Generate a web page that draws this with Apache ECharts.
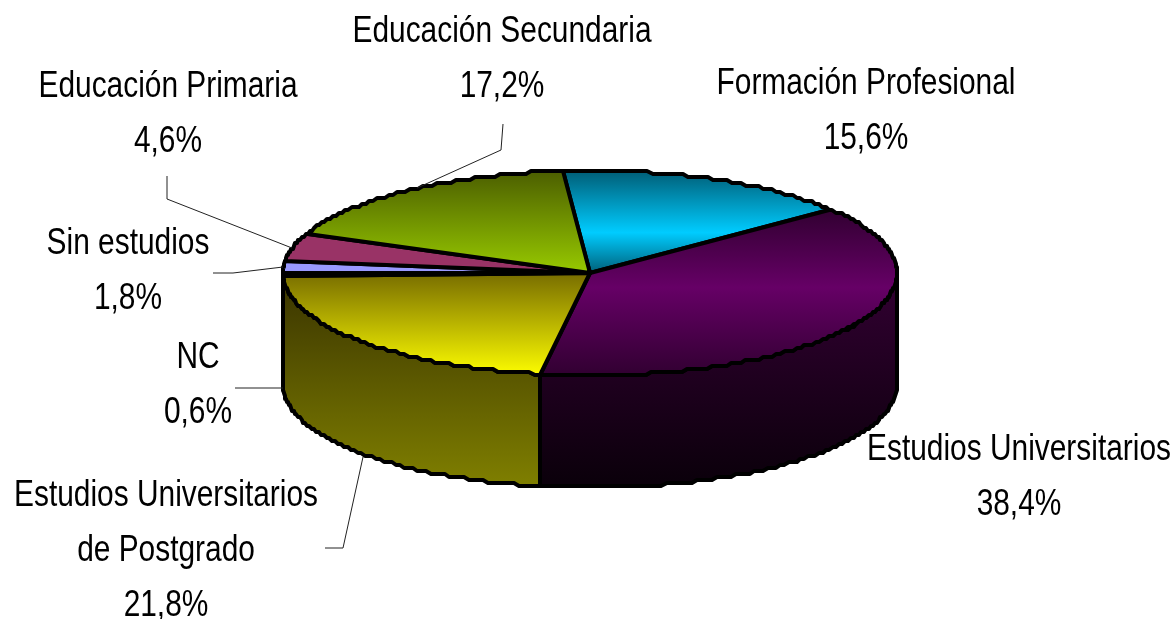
<!DOCTYPE html>
<html>
<head>
<meta charset="utf-8">
<style>
html, body { margin: 0; padding: 0; background: #fff; }
#chart { width: 1174px; height: 619px; }
</style>
<script src="https://cdn.jsdelivr.net/npm/echarts@6/dist/echarts.min.js"></script>
</head>
<body>
<div id="chart"></div>
<script>
'use strict';
// 数据
var categories = [
    'Formación Profesional',
    'Estudios Universitarios',
    'Estudios Universitarios\nde Postgrado',
    'NC',
    'Sin estudios',
    'Educación Primaria',
    'Educación Secundaria'
];
var shares = [15.6, 38.4, 21.8, 0.6, 1.8, 4.6, 17.2];

// 样式
function grad(stops) {
    return {
        type: 'linear', x: 0, y: 0, x2: 0, y2: 1,
        colorStops: stops.map(function (s) { return { offset: s[0], color: s[1] }; })
    };
}
var topFills = [
    grad([[0, '#005a72'], [0.6, '#00ccff'], [1, '#005a72']]),
    grad([[0, '#300030'], [0.47, '#660066'], [1, '#300030']]),
    grad([[0, '#756a00'], [1, '#ffff00']]),
    '#000000',
    '#9999ff',
    '#993366',
    grad([[0, '#4a5c00'], [1, '#99cc00']])
];
var sideFills = [
    '#000',
    grad([[0, '#330033'], [1, '#0a000a']]),
    grad([[0, '#383200'], [1, '#808000']]),
    grad([[0, '#383200'], [1, '#808000']]),
    '#000', '#000', '#000'
];

// 标签位置与引导线
var labelSpots = [
    { x: 866, y: 112, line: [] },
    { x: 1019, y: 478, line: [] },
    { x: 166, y: 551, line: [[325, 548], [343, 548], [363, 457]] },
    { x: 198, y: 386, line: [[235, 388], [283, 388]] },
    { x: 128, y: 272, line: [[213, 273], [233, 273], [283, 267]] },
    { x: 168, y: 115, line: [[167, 176], [167, 199], [292, 248]] },
    { x: 502, y: 60, line: [[503, 124], [501, 150], [417, 188]] }
];

var CX = 590, CY = 273, RX = 307, RY = 102.5, DEPTH = 112;
var START_DEG = -5, GRID_Y = 3;

function rim(deg, dy) {
    var t = deg * Math.PI / 180;
    return [
        Math.round(CX + RX * Math.sin(t)),
        Math.round((CY - RY * Math.cos(t) + dy) / GRID_Y) * GRID_Y
    ];
}
function arc(from, to, dy) {
    var pts = [];
    var steps = Math.max(1, Math.ceil(Math.abs(to - from)));
    for (var i = 0; i <= steps; i++) {
        pts.push(rim(from + (to - from) * i / steps, dy));
    }
    return pts;
}

function renderSlice(params, api) {
    var idx = params.dataIndex;
    var before = 0;
    for (var i = 0; i < idx; i++) {
        before += shares[i];
    }
    var a0 = START_DEG + before * 3.6;
    var a1 = a0 + api.value(0) * 3.6;
    var children = [];

    // 侧面
    var s0 = Math.max(a0, 90), s1 = Math.min(a1, 270);
    if (s1 > s0) {
        children.push({
            type: 'polygon',
            z2: 1,
            shape: { points: arc(s0, s1, 0).concat(arc(s1, s0, DEPTH)) },
            style: { fill: sideFills[idx], stroke: '#000', lineWidth: 4, lineJoin: 'round' }
        });
    }
    // 顶面
    children.push({
        type: 'polygon',
        z2: 2,
        shape: { points: [[CX, CY]].concat(arc(a0, a1, 0)) },
        style: { fill: topFills[idx], stroke: '#000', lineWidth: 4, lineJoin: 'round' }
    });
    // 引导线
    var spot = labelSpots[idx];
    if (spot.line.length) {
        children.push({
            type: 'polyline',
            z2: 3,
            shape: { points: spot.line },
            style: { fill: null, stroke: '#222', lineWidth: 1 }
        });
    }
    // 文字
    children.push({
        type: 'text',
        z2: 4,
        x: spot.x,
        y: spot.y,
        scaleX: 0.83,
        style: {
            text: categories[idx] + '\n' + api.value(0).toFixed(1).replace('.', ',') + '%',
            font: '36px "Liberation Sans", Arial, sans-serif',
            fill: '#000',
            align: 'center',
            verticalAlign: 'middle',
            lineHeight: 55
        }
    });
    return { type: 'group', children: children };
}

var chart = echarts.init(document.getElementById('chart'), null, { renderer: 'canvas' });
chart.setOption({
    backgroundColor: '#ffffff',
    animation: false,
    series: [{
        type: 'custom',
        coordinateSystem: 'none',
        silent: true,
        renderItem: renderSlice,
        data: shares.map(function (v, i) { return { name: categories[i], value: [v] }; })
    }]
});
</script>
</body>
</html>
